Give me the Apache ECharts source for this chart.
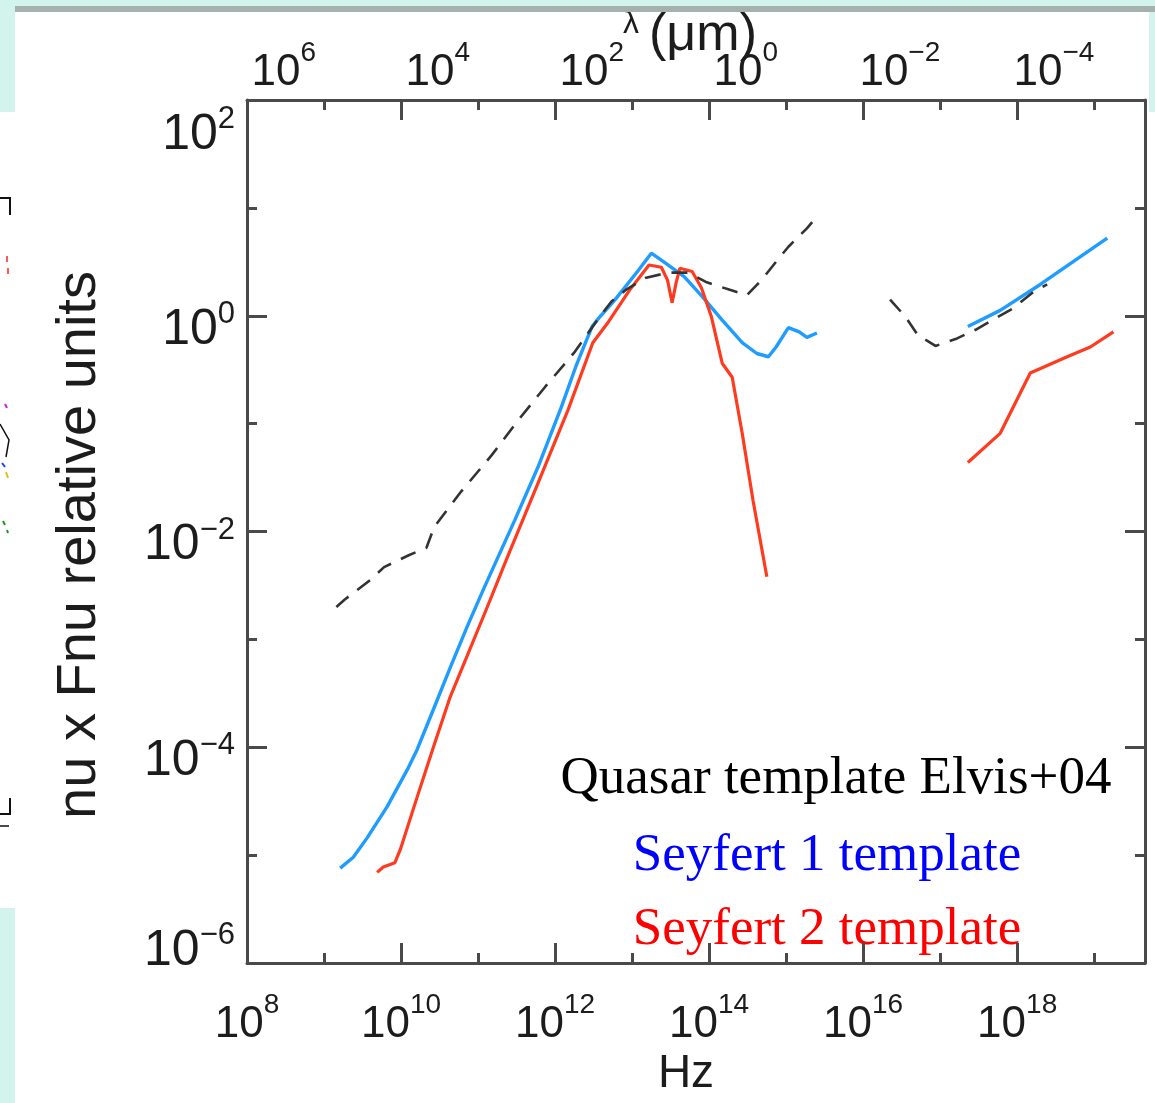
<!DOCTYPE html>
<html><head><meta charset="utf-8">
<script src="https://cdn.jsdelivr.net/npm/echarts@6/dist/echarts.min.js"></script>
<style>html,body{margin:0;padding:0;background:#fff}#c{width:1155px;height:1103px}</style>
</head><body><div id="c"></div>
<script>
// ---- Data (log10 of frequency in Hz, log10 of nu*Fnu in relative units) ----
const quasarLogNuA = [9.16, 9.27, 9.60, 9.78, 10.10, 10.33, 10.43, 10.78, 11.18, 11.52, 11.87, 12.25, 12.60, 12.73, 12.92, 13.17, 13.47, 13.73, 13.97, 14.27, 14.49, 14.68, 14.87, 15.03, 15.27, 15.40];
const quasarLogFA  = [-2.70, -2.63, -2.45, -2.33, -2.22, -2.15, -1.96, -1.63, -1.29, -0.97, -0.66, -0.34, 0.01, 0.13, 0.24, 0.35, 0.40, 0.40, 0.31, 0.24, 0.19, 0.33, 0.50, 0.64, 0.81, 0.92];
const quasarLogNuB = [16.35, 16.55, 16.71, 16.94, 17.22, 17.46, 17.75, 17.95, 18.21, 18.39];
const quasarLogFB  = [0.15, -0.01, -0.18, -0.28, -0.21, -0.13, -0.01, 0.07, 0.22, 0.29];

const sy1LogNuA = [9.21, 9.38, 9.56, 9.82, 10.08, 10.21, 10.42, 10.64, 10.86, 11.08, 11.48, 11.78, 12.08, 12.27, 12.48, 12.57, 12.78, 13.08, 13.25, 13.43, 13.68, 13.92, 14.17, 14.43, 14.62, 14.77, 14.87, 15.03, 15.17, 15.27, 15.40];
const sy1LogFA  = [-5.12, -5.02, -4.84, -4.55, -4.21, -4.02, -3.65, -3.26, -2.88, -2.52, -1.89, -1.40, -0.85, -0.47, -0.10, -0.02, 0.15, 0.42, 0.58, 0.49, 0.36, 0.17, -0.04, -0.25, -0.35, -0.38, -0.29, -0.11, -0.15, -0.20, -0.16];
const sy1LogNuB = [17.36, 17.78, 18.30, 19.17];
const sy1LogFB  = [-0.10, 0.05, 0.29, 0.72];

const sy2LogNuA = [9.69, 9.77, 9.92, 9.99, 10.21, 10.42, 10.64, 10.86, 11.12, 11.38, 11.78, 12.17, 12.49, 12.68, 12.97, 13.22, 13.38, 13.46, 13.52, 13.57, 13.62, 13.78, 13.90, 14.03, 14.17, 14.30, 14.43, 14.57, 14.75];
const sy2LogFA  = [-5.16, -5.11, -5.07, -4.95, -4.46, -4.00, -3.53, -3.15, -2.70, -2.24, -1.55, -0.87, -0.25, -0.07, 0.24, 0.47, 0.45, 0.33, 0.12, 0.30, 0.44, 0.41, 0.26, -0.01, -0.44, -0.57, -1.09, -1.71, -2.42];
const sy2LogNuB = [17.36, 17.78, 18.17, 18.65, 18.95, 19.25];
const sy2LogFB  = [-1.36, -1.09, -0.53, -0.38, -0.29, -0.15];

// tick labels (exponents)
const freqLabelExp   = [8, 10, 12, 14, 16, 18];
const freqMinorExp   = [9, 11, 13, 15, 17, 19];
const fluxLabelExp   = [-6, -4, -2, 0, 2];
const fluxMinorExp   = [-5, -3, -1, 1];
const lambdaLabelExp = [6, 4, 2, 0, -2, -4];

const legendTexts = ['Quasar template Elvis+04', 'Seyfert 1 template', 'Seyfert 2 template'];

// ---- Setup ----
const X_MIN = 8, X_MAX = 19.66, Y_MIN = -6, Y_MAX = 2;
const LOG_C_UM = Math.log10(2.99792458e14); // lambda[um] = c / nu
const AX = '#4a4a4a', TXT = '#1c1c1c', SANS = 'Liberation Sans';

function zip(a, b) { return a.map((v, i) => [v, b[i]]); }
function expStr(v) { return v < 0 ? '\u2212' + (-v) : String(v); }
function powLabel(v) { return '{b|10}{s|' + expStr(v) + '}'; }
function yPowLabel(v) {
  const core = '{b|10}{s|' + expStr(v) + '}';
  if (v === Y_MAX) return '{t| }\n' + core;
  if (v === Y_MIN) return core + '\n{e| }';
  return '{g| }\n' + core;
}

const richX = {
  b: { fontSize: 44, fontFamily: SANS, color: TXT, lineHeight: 56, verticalAlign: 'bottom' },
  s: { fontSize: 28, fontFamily: SANS, color: TXT, lineHeight: 22, verticalAlign: 'top' }
};
const richY = {
  b: { fontSize: 50, fontFamily: SANS, color: TXT, lineHeight: 56, verticalAlign: 'bottom' },
  s: { fontSize: 31, fontFamily: SANS, color: TXT, lineHeight: 22, verticalAlign: 'top' },
  t: { fontSize: 2, lineHeight: 64 },
  g: { fontSize: 2, lineHeight: 22 },
  e: { fontSize: 2, lineHeight: 30 }
};

function tickAxis(extra) {
  return Object.assign({
    type: 'value', gridIndex: 0, min: X_MIN, max: X_MAX,
    splitLine: { show: false },
    axisLine: { show: false, onZero: false },
    axisLabel: { show: false },
    axisTick: { show: false }
  }, extra);
}
function fluxAxis(extra) {
  return Object.assign({
    type: 'value', gridIndex: 0, min: Y_MIN, max: Y_MAX,
    splitLine: { show: false },
    axisLine: { show: false, onZero: false },
    axisLabel: { show: false },
    axisTick: { show: false }
  }, extra);
}
const axLine = { show: true, onZero: false, lineStyle: { color: AX, width: 3 } };
function ticks(vals, len) {
  return { show: true, inside: true, length: len, customValues: vals, lineStyle: { color: AX, width: 3 } };
}

const chart = echarts.init(document.getElementById('c'), null, { renderer: 'canvas' });

const lineBase = { type: 'line', xAxisIndex: 0, yAxisIndex: 0, showSymbol: false, symbol: 'none', animation: false, silent: true };
const dashStyle = { color: '#333333', width: 2.6, type: [16, 11], cap: 'butt' };
const blueStyle = { color: '#1f9cff', width: 3.4 };
const redStyle  = { color: '#ff3b1f', width: 3.2 };

const option = {
  backgroundColor: '#ffffff',
  animation: false,
  grid: { left: 247, top: 100, width: 898, height: 863, containLabel: false },
  xAxis: [
    tickAxis({ position: 'bottom', axisLine: axLine, axisTick: ticks(freqLabelExp, 20),
      axisLabel: { show: true, customValues: freqLabelExp, margin: 28, formatter: powLabel, rich: richX } }),
    tickAxis({ position: 'bottom', axisTick: ticks(freqMinorExp, 10) }),
    tickAxis({ position: 'top', axisLine: axLine, axisTick: ticks(freqLabelExp, 20) }),
    tickAxis({ position: 'top', axisTick: ticks(freqMinorExp, 10) }),
    // wavelength labels (lambda in micron)
    tickAxis({ position: 'top', min: LOG_C_UM - X_MAX, max: LOG_C_UM - X_MIN, inverse: true,
      axisLabel: { show: true, customValues: lambdaLabelExp, margin: 5, formatter: powLabel, rich: richX } })
  ],
  yAxis: [
    fluxAxis({ position: 'left', axisLine: axLine, axisTick: ticks(fluxLabelExp, 20),
      axisLabel: { show: true, customValues: fluxLabelExp, margin: 12, formatter: yPowLabel, rich: richY } }),
    fluxAxis({ position: 'left', axisTick: ticks(fluxMinorExp, 10) }),
    fluxAxis({ position: 'right', axisLine: axLine, axisTick: ticks(fluxLabelExp, 20) }),
    fluxAxis({ position: 'right', axisTick: ticks(fluxMinorExp, 10) })
  ],
  series: [
    Object.assign({}, lineBase, { name: legendTexts[0], data: zip(quasarLogNuA, quasarLogFA), z: 3, lineStyle: dashStyle }),
    Object.assign({}, lineBase, { name: legendTexts[0] + ' (X-ray)', data: zip(quasarLogNuB, quasarLogFB), z: 3, lineStyle: dashStyle }),
    Object.assign({}, lineBase, { name: legendTexts[1], data: zip(sy1LogNuA, sy1LogFA), z: 2, lineStyle: blueStyle }),
    Object.assign({}, lineBase, { name: legendTexts[1] + ' (X-ray)', data: zip(sy1LogNuB, sy1LogFB), z: 2, lineStyle: blueStyle }),
    Object.assign({}, lineBase, { name: legendTexts[2], data: zip(sy2LogNuA, sy2LogFA), z: 2, lineStyle: redStyle }),
    Object.assign({}, lineBase, { name: legendTexts[2] + ' (X-ray)', data: zip(sy2LogNuB, sy2LogFB), z: 2, lineStyle: redStyle })
  ],
  graphic: [
    // slide background remnants
    { type: 'rect', silent: true, z: -10, shape: { x: 0, y: 0, width: 1155, height: 7 }, style: { fill: '#d3f4ec' } },
    { type: 'rect', silent: true, z: -10, shape: { x: 0, y: 0, width: 15, height: 112 }, style: { fill: '#d3f4ec' } },
    { type: 'rect', silent: true, z: -10, shape: { x: 0, y: 908, width: 15, height: 195 }, style: { fill: '#d3f4ec' } },
    { type: 'rect', silent: true, z: -10, shape: { x: 1149, y: 12, width: 6, height: 100 }, style: { fill: '#d3f4ec' } },
    // left-edge fragments of a neighbouring figure
    { type: 'polyline', silent: true, shape: { points: [[0, 198], [10, 198], [10, 215]] }, style: { stroke: '#111', lineWidth: 2, fill: null } },
    { type: 'polyline', silent: true, shape: { points: [[7, 256], [7, 262]] }, style: { stroke: '#ff2020', lineWidth: 1.5, fill: null } },
    { type: 'polyline', silent: true, shape: { points: [[8, 268], [8, 274]] }, style: { stroke: '#ff2020', lineWidth: 1.5, fill: null } },
    { type: 'polyline', silent: true, shape: { points: [[5, 404], [7, 408]] }, style: { stroke: '#d020d0', lineWidth: 2, fill: null } },
    { type: 'polyline', silent: true, shape: { points: [[0, 424], [9, 440], [6, 457]] }, style: { stroke: '#111', lineWidth: 1.5, fill: null } },
    { type: 'polyline', silent: true, shape: { points: [[2, 463], [5, 467]] }, style: { stroke: '#2040ff', lineWidth: 2, fill: null } },
    { type: 'polyline', silent: true, shape: { points: [[6, 472], [8, 478]] }, style: { stroke: '#e0c020', lineWidth: 2, fill: null } },
    { type: 'polyline', silent: true, shape: { points: [[3, 521], [5, 525]] }, style: { stroke: '#209020', lineWidth: 2, fill: null } },
    { type: 'polyline', silent: true, shape: { points: [[7, 530], [8, 533]] }, style: { stroke: '#209020', lineWidth: 2, fill: null } },
    { type: 'polyline', silent: true, shape: { points: [[10, 798], [10, 814], [0, 814]] }, style: { stroke: '#111', lineWidth: 2, fill: null } },
    { type: 'polyline', silent: true, shape: { points: [[0, 826], [9, 826]] }, style: { stroke: '#111', lineWidth: 1.5, fill: null } },
    // axis titles
    { type: 'text', silent: true, x: 690, y: 36, z: 5,
      style: { text: '{l|\u03bb}   {m|(\u03bcm)}', align: 'center', verticalAlign: 'middle',
        rich: { l: { fontSize: 32, fontFamily: SANS, fill: TXT, lineHeight: 56, verticalAlign: 'top' },
                m: { fontSize: 52, fontFamily: SANS, fill: TXT, lineHeight: 56 } } } },
    { type: 'rect', silent: true, z: 20, shape: { x: 15, y: 6, width: 1140, height: 6 }, style: { fill: '#a6b0ad' } },
    { type: 'text', silent: true, x: 686, y: 1074,
      style: { text: 'Hz', align: 'center', verticalAlign: 'middle', fontSize: 46, fontFamily: SANS, fill: TXT } },
    { type: 'text', silent: true, x: 80, y: 545, rotation: Math.PI / 2,
      style: { text: 'nu x Fnu relative units', align: 'center', verticalAlign: 'middle', fontSize: 56, fontFamily: SANS, fill: TXT } },
    // template labels
    { type: 'text', silent: true, x: 836, y: 779,
      style: { text: legendTexts[0], align: 'center', verticalAlign: 'middle', fontSize: 53, fontFamily: 'Liberation Serif', fill: '#000000' } },
    { type: 'text', silent: true, x: 827, y: 856,
      style: { text: legendTexts[1], align: 'center', verticalAlign: 'middle', fontSize: 53, fontFamily: 'Liberation Serif', fill: '#0000ff' } },
    { type: 'text', silent: true, x: 827, y: 930,
      style: { text: legendTexts[2], align: 'center', verticalAlign: 'middle', fontSize: 53, fontFamily: 'Liberation Serif', fill: '#ff0000' } }
  ]
};
chart.setOption(option);
</script>
</body></html>
